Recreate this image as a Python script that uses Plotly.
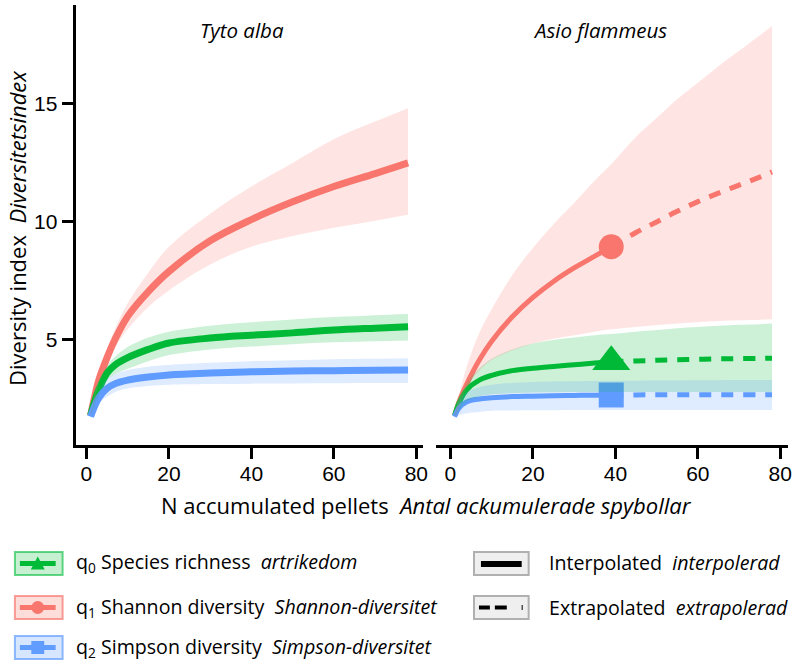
import plotly.graph_objects as go

# ---------------- data ----------------
tyto_x = [1, 2, 3, 5, 7, 10, 15, 20, 30, 40, 50, 60, 70, 78]
tyto_q0 = [1.8, 2.4, 2.9, 3.6, 3.95, 4.25, 4.6, 4.87, 5.08, 5.2, 5.3, 5.42, 5.5, 5.56]
tyto_q0_lo = [1.75, 2.25, 2.7, 3.3, 3.55, 3.78, 4.1, 4.36, 4.6, 4.72, 4.82, 4.9, 4.95, 4.98]
tyto_q0_hi = [1.85, 2.55, 3.1, 3.9, 4.3, 4.7, 5.1, 5.35, 5.6, 5.75, 5.87, 5.97, 6.05, 6.1]
tyto_q1 = [1.8, 2.6, 3.3, 4.25, 5.05, 6.0, 7.05, 7.9, 9.2, 10.1, 10.85, 11.5, 12.05, 12.5]
tyto_q1_lo = [1.75, 2.45, 3.1, 4.0, 4.7, 5.45, 6.4, 7.1, 8.2, 8.95, 9.4, 9.75, 10.05, 10.3]
tyto_q1_hi = [1.85, 2.75, 3.5, 4.6, 5.5, 6.55, 7.85, 8.95, 10.35, 11.5, 12.5, 13.5, 14.25, 14.82]
tyto_q2 = [1.75, 2.2, 2.55, 2.95, 3.15, 3.3, 3.43, 3.52, 3.6, 3.65, 3.68, 3.7, 3.72, 3.73]
tyto_q2_lo = [1.65, 2.0, 2.3, 2.6, 2.8, 2.95, 3.05, 3.1, 3.13, 3.15, 3.16, 3.17, 3.18, 3.18]
tyto_q2_hi = [1.85, 2.4, 2.85, 3.35, 3.55, 3.73, 3.87, 3.94, 4.03, 4.1, 4.14, 4.18, 4.2, 4.22]

asio_x_int = [1, 2, 4, 7, 10, 15, 20, 25, 30, 35, 39]
asio_x_ext = [39, 45, 50, 55, 60, 65, 70, 75, 78]
asio_x_band = [1, 2, 4, 7, 10, 15, 20, 25, 30, 35, 39, 45, 50, 55, 60, 65, 70, 75, 78]
asio_obs_x = [39]

asio_q0_int = [1.8, 2.3, 2.9, 3.3, 3.5, 3.7, 3.8, 3.88, 3.95, 4.02, 4.08]
asio_q0_ext = [4.08, 4.11, 4.14, 4.16, 4.18, 4.2, 4.21, 4.22, 4.23]
asio_q0_lo = [1.75, 2.0, 2.4, 2.6, 2.7, 2.75, 2.77, 2.78, 2.79, 2.8, 2.8, 2.8, 2.8, 2.8, 2.8, 2.8, 2.8, 2.8, 2.8]
asio_q0_hi = [1.85, 2.4, 3.2, 3.8, 4.2, 4.6, 4.85, 5.0, 5.1, 5.2, 5.25, 5.35, 5.42, 5.5, 5.55, 5.6, 5.64, 5.67, 5.7]

asio_q1_int = [1.8, 2.35, 3.15, 4.15, 4.95, 5.98, 6.8, 7.48, 8.05, 8.55, 8.95]
asio_q1_ext = [8.95, 9.55, 10.0, 10.45, 10.86, 11.22, 11.56, 11.9, 12.12]
asio_q1_lo = [1.75, 2.1, 3.0, 3.7, 4.15, 4.55, 4.85, 5.05, 5.2, 5.35, 5.45, 5.55, 5.63, 5.7, 5.75, 5.8, 5.83, 5.86, 5.88]
asio_q1_hi = [1.85, 2.6, 3.9, 5.3, 6.3, 7.75, 8.9, 9.9, 10.8, 11.75, 12.45, 13.6, 14.4, 15.2, 15.9, 16.6, 17.25, 17.9, 18.3]

asio_q2_int = [1.75, 2.1, 2.38, 2.5, 2.55, 2.6, 2.62, 2.64, 2.65, 2.66, 2.67]
asio_q2_ext = [2.67, 2.67, 2.68, 2.68, 2.68, 2.68, 2.68, 2.68, 2.68]
asio_q2_lo = [1.65, 1.8, 1.9, 1.95, 2.0, 2.01, 2.02, 2.02, 2.03, 2.03, 2.03, 2.03, 2.03, 2.03, 2.03, 2.03, 2.03, 2.03, 2.03]
asio_q2_hi = [1.85, 2.4, 2.8, 3.0, 3.1, 3.18, 3.22, 3.24, 3.25, 3.26, 3.27, 3.27, 3.28, 3.28, 3.29, 3.29, 3.3, 3.3, 3.3]

x_ticks = [0, 20, 40, 60, 80]
y_ticks = [5, 10, 15]

GREEN = "#00BA38"
RED = "#F8766D"
BLUE = "#619CFF"
GREEN_F = "rgba(0,186,56,0.2)"
RED_F = "rgba(248,118,109,0.2)"
BLUE_F = "rgba(97,156,255,0.2)"

W, H = 793, 667
def px(x):
    return x / W
def py(y):
    return 1 - y / H

fig = go.Figure()

def line(x, y, color, width, xa, ya, dash="solid"):
    fig.add_trace(go.Scatter(x=x, y=y, mode="lines", xaxis=xa, yaxis=ya,
                             line=dict(color=color, width=width, dash=dash, shape="spline", smoothing=1.0),
                             hoverinfo="skip", showlegend=False))

def band(x, lo, hi, fill, xa, ya):
    fig.add_trace(go.Scatter(x=x, y=lo, mode="lines", xaxis=xa, yaxis=ya,
                             line=dict(width=0, shape="spline", smoothing=1.0),
                             hoverinfo="skip", showlegend=False))
    fig.add_trace(go.Scatter(x=x, y=hi, mode="lines", xaxis=xa, yaxis=ya, fill="tonexty",
                             fillcolor=fill, line=dict(width=0, shape="spline", smoothing=1.0),
                             hoverinfo="skip", showlegend=False))

# Left panel: Tyto alba
line(tyto_x, tyto_q1, RED, 7, "x", "y")
line(tyto_x, tyto_q0, GREEN, 7, "x", "y")
line(tyto_x, tyto_q2, BLUE, 7, "x", "y")
band(tyto_x, tyto_q0_lo, tyto_q0_hi, GREEN_F, "x", "y")
band(tyto_x, tyto_q1_lo, tyto_q1_hi, RED_F, "x", "y")
band(tyto_x, tyto_q2_lo, tyto_q2_hi, BLUE_F, "x", "y")

# Right panel: Asio flammeus
DASH = "12px,10px"
for xi, yi, xe, ye, c in [(asio_x_int, asio_q1_int, asio_x_ext, asio_q1_ext, RED),
                          (asio_x_int, asio_q0_int, asio_x_ext, asio_q0_ext, GREEN),
                          (asio_x_int, asio_q2_int, asio_x_ext, asio_q2_ext, BLUE)]:
    line(xi, yi, c, 5, "x2", "y2")
    line(xe, ye, c, 5, "x2", "y2", dash=DASH)

fig.add_trace(go.Scatter(x=asio_obs_x, y=[asio_q1_int[-1]], mode="markers", xaxis="x2", yaxis="y2",
                         marker=dict(symbol="circle", size=25, color=RED), showlegend=False, hoverinfo="skip"))
fig.add_trace(go.Scatter(x=asio_obs_x, y=[asio_q0_int[-1]], mode="markers", xaxis="x2", yaxis="y2",
                         marker=dict(symbol="triangle-up", size=33, color=GREEN), showlegend=False, hoverinfo="skip"))
fig.add_trace(go.Scatter(x=asio_obs_x, y=[asio_q2_int[-1]], mode="markers", xaxis="x2", yaxis="y2",
                         marker=dict(symbol="square", size=25, color=BLUE), showlegend=False, hoverinfo="skip"))

band(asio_x_band, asio_q0_lo, asio_q0_hi, GREEN_F, "x2", "y2")
band(asio_x_band, asio_q1_lo, asio_q1_hi, RED_F, "x2", "y2")
band(asio_x_band, asio_q2_lo, asio_q2_hi, BLUE_F, "x2", "y2")

TICKFONT = dict(family="Liberation Sans, Arial, sans-serif", size=21, color="black")
TXT = "Open Sans, DejaVu Sans, sans-serif"

ydom = [py(445), py(5)]
yrange = [0.55, 19.19]

fig.update_layout(
    width=W, height=H, margin=dict(l=0, r=0, t=0, b=0),
    plot_bgcolor="white", paper_bgcolor="white", showlegend=False,
    xaxis=dict(domain=[px(76), px(426)], range=[-2.65, 81.7], tickvals=x_ticks, ticks="outside",
               ticklen=11, tickwidth=3, tickcolor="black", showline=True, linewidth=3, linecolor="black",
               showgrid=False, zeroline=False, tickfont=TICKFONT, anchor="y", ticklabelstandoff=-3),
    yaxis=dict(domain=ydom, range=yrange, tickvals=y_ticks, ticks="outside",
               ticklen=11, tickwidth=3, tickcolor="black", showline=True, linewidth=3, linecolor="black",
               showgrid=False, zeroline=False, tickfont=TICKFONT, anchor="x"),
    xaxis2=dict(domain=[px(439), 1.0], range=[-3.45, 81.87], tickvals=x_ticks, ticks="outside",
                ticklen=11, tickwidth=3, tickcolor="black", showline=True, linewidth=3, linecolor="black",
                showgrid=False, zeroline=False, tickfont=TICKFONT, anchor="y2", ticklabelstandoff=-3),
    yaxis2=dict(domain=ydom, range=yrange, showline=False, showticklabels=False, ticks="",
                showgrid=False, zeroline=False, anchor="x2"),
)

ann = []
def text(x, y, s, size=20, xanchor="center", angle=0):
    ann.append(dict(x=px(x), y=py(y), xref="paper", yref="paper", text=s, showarrow=False,
                    xanchor=xanchor, yanchor="middle", textangle=angle,
                    font=dict(family=TXT, size=size, color="black")))

text(244, 30, "<i>Tyto alba</i>", size=20.5)
text(604, 30, "<i>Asio flammeus</i>", size=20.5)
text(429, 505, "N accumulated pellets\u00a0\u00a0<i>Antal ackumulerade spybollar</i>", size=22)
text(17, 228, "Diversity index\u00a0\u00a0<i>Diversitetsindex</i>", size=22, angle=-90)

LS = 19.6
text(74, 562, "q<sub>0</sub> Species richness\u00a0\u00a0<i>artrikedom</i>", size=LS, xanchor="left")
text(74, 607, "q<sub>1</sub> Shannon diversity\u00a0\u00a0<i>Shannon-diversitet</i>", size=LS, xanchor="left")
text(74, 647, "q<sub>2</sub> Simpson diversity\u00a0\u00a0<i>Simpson-diversitet</i>", size=LS, xanchor="left")
text(550, 562, "Interpolated\u00a0\u00a0<i>interpolerad</i>", size=LS, xanchor="left")
text(550, 607, "Extrapolated\u00a0\u00a0<i>extrapolerad</i>", size=LS, xanchor="left")

shapes = []
def rect(x0, y0, x1, y1, fill, border, bw=2):
    shapes.append(dict(type="rect", xref="paper", yref="paper", x0=px(x0), x1=px(x1), y0=py(y1), y1=py(y0),
                       fillcolor=fill, line=dict(color=border, width=bw)))
def seg(x0, y0, x1, y1, color, w):
    shapes.append(dict(type="line", xref="paper", yref="paper", x0=px(x0), x1=px(x1), y0=py(y0), y1=py(y1),
                       line=dict(color=color, width=w)))

# legend keys (colour)
rows = [(552, 575, GREEN, "rgba(0,186,56,0.22)", "rgba(0,186,56,0.6)", "tri"),
        (596, 619, RED, "rgba(248,118,109,0.25)", "rgba(248,118,109,0.7)", "circ"),
        (636, 659, BLUE, "rgba(97,156,255,0.25)", "rgba(97,156,255,0.7)", "sq")]
for y0, y1, col, fill, border, kind in rows:
    rect(15, y0, 63, y1, fill, border)
    yc = (y0 + y1) / 2
    seg(20, yc, 56, yc, col, 5)
    if kind == "tri":
        path = "M %f %f L %f %f L %f %f Z" % (px(31), py(yc + 6), px(45), py(yc + 6), px(38), py(yc - 7))
        shapes.append(dict(type="path", xref="paper", yref="paper", path=path, fillcolor=col, line=dict(width=0)))
    elif kind == "circ":
        shapes.append(dict(type="circle", xref="paper", yref="paper", x0=px(31.5), x1=px(44.5),
                           y0=py(yc + 6.5), y1=py(yc - 6.5), fillcolor=col, line=dict(width=0)))
    else:
        shapes.append(dict(type="rect", xref="paper", yref="paper", x0=px(31.5), x1=px(44.5),
                           y0=py(yc + 6.5), y1=py(yc - 6.5), fillcolor=col, line=dict(width=0)))

# legend keys (line type)
rect(477, 552, 532, 575, "#efefef", "#b0b0b0")
seg(484, 564, 525, 564, "black", 6)
rect(477, 596, 532, 619, "#efefef", "#b0b0b0")
seg(482, 607.5, 493, 607.5, "black", 4)
seg(498, 607.5, 510, 607.5, "black", 4)
seg(525.5, 605, 525.5, 610, "black", 1)

fig.update_layout(annotations=ann, shapes=shapes)
fig.write_html("out.html", config={"displayModeBar": False},
               post_script="document.body.style.margin='0px';document.body.style.overflow='hidden';")
